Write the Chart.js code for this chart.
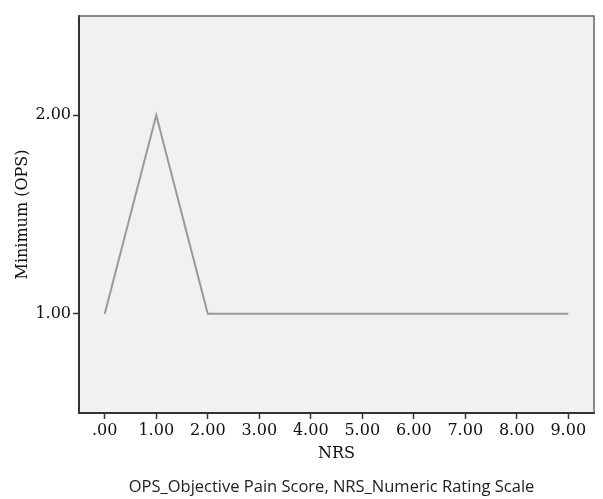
<!DOCTYPE html>
<html>
<head>
<meta charset="utf-8">
<script src="https://cdn.jsdelivr.net/npm/chart.js@4"></script>
<style>
    html, body { margin: 0; padding: 0; background: #fff; }
    #wrap { position: relative; width: 603px; height: 499px; }
    #caption {
        position: absolute; left: 30px; width: 603px; top: 475px;
        text-align: center; font-family: "Open Sans", sans-serif; font-size: 16.5px; color: #222;
        line-height: 22px;
    }
</style>
</head>
<body>
<div id="wrap">
    <canvas id="opsChart" width="603" height="499"></canvas>
    <div id="caption">OPS_Objective Pain Score, NRS_Numeric Rating Scale</div>
</div>
<script>
// NRS values and the minimum OPS at each one
const nrsValues = [0, 1, 2, 3, 4, 5, 6, 7, 8, 9];
const minOps = [1, 2, 1, 1, 1, 1, 1, 1, 1, 1];

const xTicks = [0, 1, 2, 3, 4, 5, 6, 7, 8, 9];
const xTickLabels = ['.00', '1.00', '2.00', '3.00', '4.00', '5.00', '6.00', '7.00', '8.00', '9.00'];
const yTicks = [1, 2];
const yTickLabels = ['1.00', '2.00'];

const serif = '"DejaVu Serif", serif';

// grey plot area with thin frame on top and right
const plotFrame = {
    id: 'plotFrame',
    beforeDraw(chart) {
        const a = chart.chartArea;
        const ctx = chart.ctx;
        ctx.save();
        ctx.fillStyle = '#f0f1f0';
        ctx.fillRect(a.left, a.top, a.right - a.left, a.bottom - a.top);
        ctx.restore();
    },
    afterDraw(chart) {
        const a = chart.chartArea;
        const ctx = chart.ctx;
        ctx.save();
        ctx.strokeStyle = '#666';
        ctx.lineWidth = 1.5;
        ctx.beginPath();
        ctx.moveTo(a.left, a.top);
        ctx.lineTo(a.right, a.top);
        ctx.lineTo(a.right, a.bottom);
        ctx.stroke();
        ctx.restore();
    }
};

new Chart(document.getElementById('opsChart').getContext('2d'), {
    type: 'line',
    data: {
        datasets: [{
            data: nrsValues.map((x, i) => ({ x: x, y: minOps[i] })),
            borderColor: '#9a9a9a',
            borderWidth: 2,
            pointRadius: 0,
            tension: 0,
            fill: false
        }]
    },
    options: {
        responsive: false,
        animation: false,
        layout: { padding: { left: 13, right: 9, top: 16, bottom: 36 } },
        plugins: {
            legend: { display: false },
            tooltip: { enabled: false }
        },
        scales: {
            x: {
                type: 'linear',
                min: -0.5,
                max: 9.5,
                afterBuildTicks: scale => { scale.ticks = xTicks.map(v => ({ value: v })); },
                afterFit: scale => { scale.height = 50; },
                ticks: {
                    callback: (v) => xTickLabels[xTicks.indexOf(v)],
                    font: { family: serif, size: 16 },
                    color: '#111',
                    padding: 2,
                    maxRotation: 0
                },
                grid: { drawOnChartArea: false, tickLength: 6, color: '#333', tickWidth: 1.5 },
                border: { display: true, color: '#333', width: 2 },
                title: {
                    display: true,
                    text: 'NRS',
                    font: { family: serif, size: 16 },
                    color: '#111',
                    padding: 0
                }
            },
            y: {
                type: 'linear',
                min: 0.5,
                max: 2.5,
                afterBuildTicks: scale => { scale.ticks = yTicks.map(v => ({ value: v })); },
                afterFit: scale => { scale.width = 66; },
                ticks: {
                    callback: (v) => yTickLabels[yTicks.indexOf(v)],
                    font: { family: serif, size: 16 },
                    color: '#111',
                    padding: 2
                },
                grid: { drawOnChartArea: false, tickLength: 6, color: '#333', tickWidth: 1.5 },
                border: { display: true, color: '#333', width: 2 },
                title: {
                    display: true,
                    text: 'Minimum (OPS)',
                    font: { family: serif, size: 16 },
                    color: '#111',
                    padding: 0
                }
            }
        }
    },
    plugins: [plotFrame]
});
</script>
</body>
</html>
